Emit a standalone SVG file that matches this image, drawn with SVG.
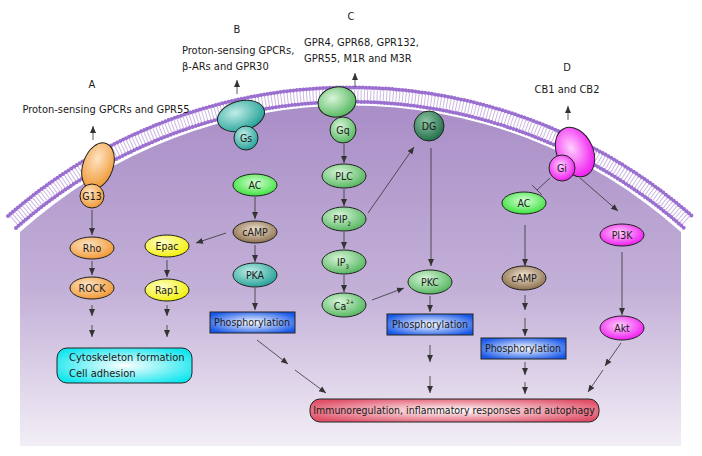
<svg xmlns="http://www.w3.org/2000/svg" width="702" height="456" viewBox="0 0 702 456">
<style>
text{font-family:"DejaVu Sans Condensed","DejaVu Sans","Liberation Sans",sans-serif;font-size:10.5px;fill:#1a1a1a}
.c{text-anchor:middle}
.lbl{font-size:11px}
.ln{stroke:#333;stroke-width:0.8;fill:none;marker-end:url(#ah)}
.nd{stroke:#222;stroke-width:1}
</style>
<defs>
<marker id="ah" markerWidth="8" markerHeight="8" refX="7" refY="4" orient="auto" markerUnits="userSpaceOnUse"><path d="M0,1 L7,4 L0,7 Z" fill="#333"/></marker>
<linearGradient id="cell" x1="0" y1="0" x2="0" y2="1"><stop offset="0" stop-color="#a98ec7"/><stop offset="0.55" stop-color="#c4b1d8"/><stop offset="1" stop-color="#f2eef6"/></linearGradient>
<radialGradient id="org" cx="0.4" cy="0.35" r="0.7"><stop offset="0" stop-color="#fde3c4"/><stop offset="1" stop-color="#f0962e"/></radialGradient>
<radialGradient id="yel" cx="0.4" cy="0.35" r="0.7"><stop offset="0" stop-color="#ffffc8"/><stop offset="1" stop-color="#f2ee00"/></radialGradient>
<radialGradient id="teal" cx="0.4" cy="0.35" r="0.7"><stop offset="0" stop-color="#bfeee8"/><stop offset="1" stop-color="#1e9e94"/></radialGradient>
<radialGradient id="grn" cx="0.4" cy="0.35" r="0.7"><stop offset="0" stop-color="#d8f5d8"/><stop offset="1" stop-color="#4fb45a"/></radialGradient>
<radialGradient id="lime" cx="0.5" cy="0.4" r="0.7"><stop offset="0" stop-color="#d6ffd6"/><stop offset="1" stop-color="#22dd22"/></radialGradient>
<radialGradient id="brn" cx="0.5" cy="0.4" r="0.7"><stop offset="0" stop-color="#f1e4d2"/><stop offset="1" stop-color="#7a5a36"/></radialGradient>
<radialGradient id="dg" cx="0.4" cy="0.35" r="0.7"><stop offset="0" stop-color="#8fc6a5"/><stop offset="1" stop-color="#1c6a45"/></radialGradient>
<radialGradient id="mag" cx="0.45" cy="0.4" r="0.7"><stop offset="0" stop-color="#ffd0ff"/><stop offset="1" stop-color="#ee00ee"/></radialGradient>
<radialGradient id="blue" cx="0.5" cy="0.5" r="0.6"><stop offset="0" stop-color="#ffffff"/><stop offset="1" stop-color="#1858e8"/></radialGradient>
<radialGradient id="cyan" cx="0.5" cy="0.5" r="0.6"><stop offset="0" stop-color="#ffffff"/><stop offset="1" stop-color="#10e6ee"/></radialGradient>
<radialGradient id="red" cx="0.5" cy="0.5" r="0.6"><stop offset="0" stop-color="#ffffff"/><stop offset="1" stop-color="#e05068"/></radialGradient>
</defs>

<g id="cell">
<path d="M20,232 A495,495 0 0 1 681,232 L681,446 L20,446 Z" fill="url(#cell)"/>
<path d="M12,222 A512,512 0 0 1 688,222" fill="none" stroke="#ffffff" stroke-width="13" stroke-dasharray="1 2.2" opacity="0.9"/>
<path d="M12,222 A512,512 0 0 1 688,222" fill="none" stroke="#9a72c8" stroke-width="13" stroke-dasharray="1 2.2" stroke-dashoffset="1.1" opacity="0.5"/>
<path d="M8,216 A519,519 0 0 1 692,216" fill="none" stroke="#9b6fd0" stroke-width="4" stroke-linecap="round" stroke-dasharray="0 3.3"/>
<path d="M16,228 A505,505 0 0 1 684,228" fill="none" stroke="#9b6fd0" stroke-width="4" stroke-linecap="round" stroke-dasharray="0 3.3"/>
</g>

<g id="labels">
<text class="c lbl" x="92" y="88">A</text>
<text class="c lbl" x="106" y="113">Proton-sensing GPCRs and GPR55</text>
<text class="c lbl" x="237" y="33">B</text>
<text class="lbl" x="182" y="54">Proton-sensing GPCRs,</text>
<text class="lbl" x="182" y="70">β-ARs and GPR30</text>
<text class="c lbl" x="351" y="20">C</text>
<text class="lbl" x="304" y="46">GPR4, GPR68, GPR132,</text>
<text class="lbl" x="304" y="62">GPR55, M1R and M3R</text>
<text class="c lbl" x="567" y="71">D</text>
<text class="c lbl" x="567" y="93">CB1 and CB2</text>
</g>

<g id="connectors">
<path class="ln" d="M93,140 V126"/>
<path class="ln" d="M237,94 V80"/>
<path class="ln" d="M355,87 V73"/>
<path class="ln" d="M568,120 V106"/>
<path class="ln" d="M92,210 V235"/>
<path class="ln" d="M92,261 V275"/>
<path class="ln" d="M92,305 V316"/>
<path class="ln" d="M92,325 V337"/>
<path class="ln" d="M167,260 V277"/>
<path class="ln" d="M167,305 V316"/>
<path class="ln" d="M167,325 V337"/>
<path class="ln" d="M255,197 V219"/>
<path class="ln" d="M226,233 L196,243"/>
<path class="ln" d="M255,245 V262"/>
<path class="ln" d="M255,288 V310"/>
<path class="ln" d="M257,340 L288,364"/>
<path class="ln" d="M295,370 L326,393"/>
<path class="ln" d="M344,144 V163"/>
<path class="ln" d="M344,189 V206"/>
<path class="ln" d="M344,232 V249"/>
<path class="ln" d="M344,275 V292"/>
<path class="ln" d="M368,213 L414,147"/>
<path class="ln" d="M431,148 V266"/>
<path class="ln" d="M372,300 L404,288"/>
<path class="ln" d="M430,296 V312"/>
<path class="ln" d="M430,345 V362"/>
<path class="ln" d="M430,376 V393"/>
<path d="M550,178 L537,190 M532,185 L542,195" stroke="#333" stroke-width="0.8" fill="none"/>
<path class="ln" d="M525,225 V266"/>
<path class="ln" d="M525,295 V310"/>
<path class="ln" d="M525,318 V336"/>
<path class="ln" d="M525,362 V375"/>
<path class="ln" d="M525,382 V394"/>
<path class="ln" d="M580,178 L618,211"/>
<path class="ln" d="M622,252 V315"/>
<path class="ln" d="M621,343 L605,366" stroke="#666"/>
<path class="ln" d="M603,370 L588,392" stroke="#666"/>
</g>

<g id="A-receptor"><ellipse class="nd" cx="98" cy="166" rx="15" ry="24" transform="rotate(20 98 166)" fill="url(#org)"/><circle class="nd" cx="92" cy="196" r="12" fill="url(#org)"/><text class="c" x="92" y="200">G13</text></g>
<g id="Rho"><ellipse class="nd" cx="92" cy="248" rx="22" ry="11" fill="url(#org)"/><text class="c" x="92" y="252">Rho</text></g>
<g id="ROCK"><ellipse class="nd" cx="92" cy="288" rx="22" ry="11" fill="url(#org)"/><text class="c" x="92" y="292">ROCK</text></g>
<g id="Epac"><ellipse class="nd" cx="167" cy="246" rx="22" ry="11" fill="url(#yel)"/><text class="c" x="167" y="250">Epac</text></g>
<g id="Rap1"><ellipse class="nd" cx="167" cy="290" rx="22" ry="11" fill="url(#yel)"/><text class="c" x="167" y="294">Rap1</text></g>
<g id="cytoskeleton"><rect class="nd" x="57" y="348" width="135" height="35" rx="10" fill="url(#cyan)"/><text class="lbl" x="69" y="361">Cytoskeleton formation</text><text class="lbl" x="69" y="377">Cell adhesion</text></g>

<g id="B-receptor"><ellipse class="nd" cx="241" cy="116" rx="24" ry="15" transform="rotate(-15 241 116)" fill="url(#teal)"/><circle class="nd" cx="246" cy="138" r="12" fill="url(#teal)"/><text class="c" x="246" y="142">Gs</text></g>
<g id="AC-B"><ellipse class="nd" cx="255" cy="185" rx="22" ry="11" fill="url(#lime)"/><text class="c" x="255" y="189">AC</text></g>
<g id="cAMP-B"><ellipse class="nd" cx="255" cy="232" rx="22" ry="11" fill="url(#brn)"/><text class="c" x="255" y="236">cAMP</text></g>
<g id="PKA"><ellipse class="nd" cx="255" cy="275" rx="22" ry="12" fill="url(#teal)"/><text class="c" x="255" y="279">PKA</text></g>
<g id="Phos-B"><rect class="nd" x="210" y="312" width="85" height="21" fill="url(#blue)"/><text class="c" x="252" y="326">Phosphorylation</text></g>

<g id="C-receptor"><ellipse class="nd" cx="337" cy="102" rx="19" ry="15" transform="rotate(-10 337 102)" fill="url(#grn)"/><circle class="nd" cx="343" cy="130" r="13" fill="url(#grn)"/><text class="c" x="343" y="134">Gq</text></g>
<g id="PLC"><ellipse class="nd" cx="344" cy="176" rx="22" ry="12" fill="url(#grn)"/><text class="c" x="344" y="180">PLC</text></g>
<g id="PIP2"><ellipse class="nd" cx="344" cy="219" rx="22" ry="12" fill="url(#grn)"/><text class="c" x="342" y="223">PIP<tspan font-size="6" dy="3">2</tspan></text></g>
<g id="IP3"><ellipse class="nd" cx="344" cy="262" rx="22" ry="12" fill="url(#grn)"/><text class="c" x="343" y="266">IP<tspan font-size="6" dy="3">3</tspan></text></g>
<g id="Ca"><ellipse class="nd" cx="344" cy="305" rx="22" ry="12" fill="url(#grn)"/><text class="c" x="344" y="310">Ca<tspan font-size="6" dy="-6">2+</tspan></text></g>
<g id="DG"><circle class="nd" cx="429" cy="126" r="15" fill="url(#dg)"/><text class="c" x="429" y="130">DG</text></g>
<g id="PKC"><ellipse class="nd" cx="430" cy="282" rx="22" ry="12" fill="url(#grn)"/><text class="c" x="430" y="286">PKC</text></g>
<g id="Phos-C"><rect class="nd" x="387" y="314" width="86" height="21" fill="url(#blue)"/><text class="c" x="430" y="328">Phosphorylation</text></g>

<g id="D-receptor"><ellipse class="nd" cx="575" cy="152" rx="18" ry="26" transform="rotate(-25 575 152)" fill="url(#mag)"/><circle class="nd" cx="562" cy="168" r="13" fill="url(#mag)"/><text class="c" x="562" y="172">Gi</text></g>
<g id="AC-D"><ellipse class="nd" cx="524" cy="203" rx="22" ry="11" fill="url(#lime)"/><text class="c" x="524" y="207">AC</text></g>
<g id="cAMP-D"><ellipse class="nd" cx="524" cy="278" rx="22" ry="12" fill="url(#brn)"/><text class="c" x="524" y="282">cAMP</text></g>
<g id="Phos-D"><rect class="nd" x="481" y="338" width="85" height="21" fill="url(#blue)"/><text class="c" x="523" y="352">Phosphorylation</text></g>
<g id="PI3K"><ellipse class="nd" cx="622" cy="235" rx="22" ry="11" fill="url(#mag)"/><text class="c" x="622" y="239">PI3K</text></g>
<g id="Akt"><ellipse class="nd" cx="622" cy="328" rx="22" ry="12" fill="url(#mag)"/><text class="c" x="622" y="332">Akt</text></g>

<g id="immuno"><rect class="nd" x="310" y="399" width="289" height="23" rx="10" fill="url(#red)"/><text class="c" x="454" y="414">Immunoregulation, inflammatory responses and autophagy</text></g>
</svg>
